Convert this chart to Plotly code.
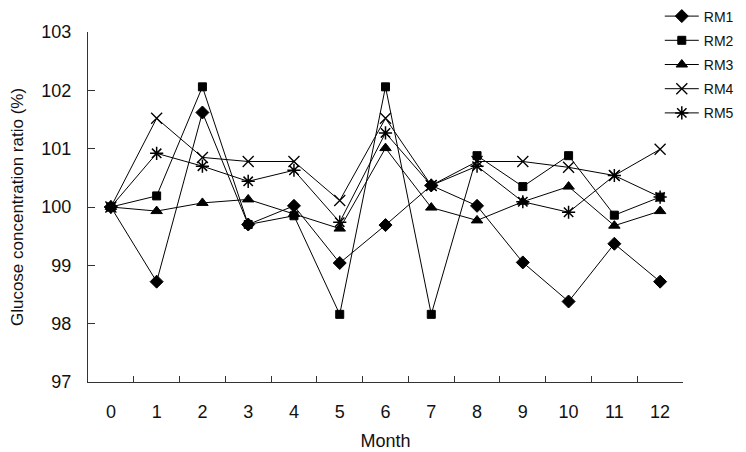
import plotly.graph_objects as go

months = [str(m) for m in range(13)]
rm1 = [100, 98.72, 101.62, 99.70, 100.02, 99.04, 99.69, 100.37, 100.02, 99.05, 98.38, 99.37, 98.72]
rm2 = [100, 100.19, 102.06, 99.70, 99.85, 98.16, 102.06, 98.16, 100.88, 100.35, 100.88, 99.86, 100.17]
rm3 = [100, 99.93, 100.07, 100.13, 99.88, 99.63, 101.01, 99.99, 99.77, 100.09, 100.35, 99.68, 99.93]
rm4 = [100, 101.52, 100.85, 100.78, 100.78, 100.11, 101.52, 100.37, 100.78, 100.78, 100.68, 100.54, 100.99]
rm5 = [100, 100.92, 100.70, 100.44, 100.63, 99.74, 101.27, 100.37, 100.70, 100.09, 99.91, 100.54, 100.17]

FONT = "Liberation Sans, Arial, sans-serif"

series = [
    ("RM1", rm1, "diamond", 10, 1),
    ("RM2", rm2, "square", 8, 1),
    ("RM3", rm3, "triangle-up", 10, 1),
    ("RM4", rm4, "x-thin-open", 11, 1.3),
    ("RM5", rm5, "asterisk-open", 11, 1.5),
]

fig = go.Figure()
for name, vals, sym, size, lw in series:
    fig.add_trace(go.Scatter(
        x=months, y=vals, name=name, mode="lines+markers", legendgroup=name,
        line=dict(color="black", width=1),
        marker=dict(symbol=sym, size=size, color="black",
                    line=dict(color="black", width=lw)),
    ))

# page body has an 8px default margin, so the figure is 8px smaller than the window
fig.update_layout(
    width=738, height=444,
    margin=dict(l=80, r=63, t=24, b=70, autoexpand=False),
    paper_bgcolor="white", plot_bgcolor="white",
    font=dict(family=FONT, color="#111", size=17),
    showlegend=True,
    legend=dict(x=0.961, y=1.09, xanchor="left", yanchor="top",
                font=dict(size=14, family=FONT), tracegroupgap=3,
                itemwidth=34, bgcolor="rgba(0,0,0,0)"),
    xaxis=dict(
        type="category", categoryorder="array", categoryarray=months,
        title=dict(text="Month", font=dict(size=18), standoff=13),
        showline=True, linecolor="#333", linewidth=1,
        ticks="inside", tickson="boundaries", ticklen=6, tickcolor="#333",
        showgrid=False, zeroline=False, tickfont=dict(size=18),
        range=[-0.5, 12.5], automargin=False, ticklabelstandoff=13,
    ),
    yaxis=dict(
        range=[97, 103], tickvals=[97, 98, 99, 100, 101, 102, 103],
        title=dict(text="Glucose concentration ratio (%)", font=dict(size=17), standoff=18),
        showline=True, linecolor="#333", linewidth=1,
        ticks="inside", ticklen=7, tickcolor="#333",
        showgrid=False, zeroline=False, tickfont=dict(size=18),
        ticklabelstandoff=12, automargin=False,
    ),
)

fig.write_html("out.html")
